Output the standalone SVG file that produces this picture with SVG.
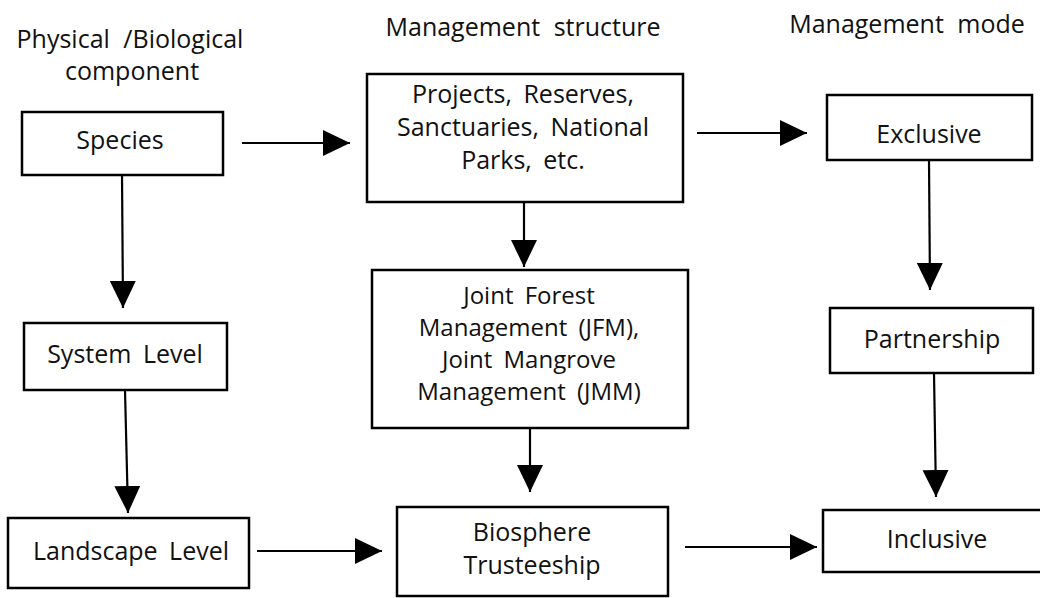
<svg xmlns="http://www.w3.org/2000/svg" width="1040" height="598" viewBox="0 0 1040 598">
<style>
  .box { fill: #ffffff; stroke: #000000; stroke-width: 2.5; }
  .lbl { font-family: "Open Sans", "Noto Sans", "DejaVu Sans", sans-serif; font-size: 25px; fill: #111111; text-anchor: middle; word-spacing: 5px; }
  .sm { font-size: 24px; }
  .hdr { font-family: "Open Sans", "Noto Sans", "DejaVu Sans", sans-serif; font-size: 25px; fill: #111111; text-anchor: middle; word-spacing: 7px; }
  .conn { stroke: #000000; stroke-width: 2.2; fill: none; marker-end: url(#ah); }
</style>
<defs>
  <marker id="ah" markerUnits="userSpaceOnUse" markerWidth="30" markerHeight="28" refX="27" refY="13" orient="auto">
    <path d="M0,0 L27,13 L0,26 z" fill="#000000"/>
  </marker>
</defs>
<rect width="1040" height="598" fill="#ffffff"/>

<g id="headers">
  <text class="hdr" x="130" y="48">Physical /Biological</text>
  <text class="hdr" x="132" y="80">component</text>
  <text class="hdr" x="523" y="36">Management structure</text>
  <text class="hdr" x="907" y="33">Management mode</text>
</g>

<g id="connectors">
  <line class="conn" x1="242" y1="143" x2="350" y2="143"/>
  <line class="conn" x1="697" y1="133" x2="807" y2="133"/>
  <line class="conn" x1="122" y1="175" x2="123" y2="308"/>
  <line class="conn" x1="125" y1="390" x2="128" y2="513"/>
  <line class="conn" x1="524" y1="202" x2="524" y2="267"/>
  <line class="conn" x1="530" y1="428" x2="530" y2="492"/>
  <line class="conn" x1="929" y1="160" x2="930" y2="290"/>
  <line class="conn" x1="934" y1="373" x2="936" y2="497"/>
  <line class="conn" x1="257" y1="551" x2="382" y2="551"/>
  <line class="conn" x1="685" y1="547" x2="817" y2="547"/>
</g>

<g id="species">
  <rect class="box" x="22" y="112" width="201" height="63"/>
  <text class="lbl" x="120" y="149">Species</text>
</g>
<g id="system-level">
  <rect class="box" x="24" y="323" width="203" height="67"/>
  <text class="lbl" x="125" y="363">System Level</text>
</g>
<g id="landscape-level">
  <rect class="box" x="8" y="518" width="241" height="70"/>
  <text class="lbl" x="131" y="560">Landscape Level</text>
</g>
<g id="projects">
  <rect class="box" x="367" y="74" width="316" height="128"/>
  <text class="lbl" x="523" y="103">Projects, Reserves,</text>
  <text class="lbl" x="523" y="136">Sanctuaries, National</text>
  <text class="lbl" x="523" y="169">Parks, etc.</text>
</g>
<g id="jfm">
  <rect class="box" x="372" y="270" width="316" height="158"/>
  <text class="lbl sm" x="529" y="304">Joint Forest</text>
  <text class="lbl sm" x="529" y="336">Management (JFM),</text>
  <text class="lbl sm" x="529" y="368">Joint  Mangrove</text>
  <text class="lbl sm" x="529" y="400">Management (JMM)</text>
</g>
<g id="biosphere">
  <rect class="box" x="397" y="507" width="271" height="89"/>
  <text class="lbl" x="532" y="541">Biosphere</text>
  <text class="lbl" x="532" y="574">Trusteeship</text>
</g>
<g id="exclusive">
  <rect class="box" x="827" y="95" width="205" height="65"/>
  <text class="lbl" x="929" y="143">Exclusive</text>
</g>
<g id="partnership">
  <rect class="box" x="830" y="308" width="203" height="65"/>
  <text class="lbl" x="932" y="348">Partnership</text>
</g>
<g id="inclusive">
  <rect class="box" x="823" y="510" width="222" height="62"/>
  <text class="lbl" x="937" y="548">Inclusive</text>
</g>
</svg>
